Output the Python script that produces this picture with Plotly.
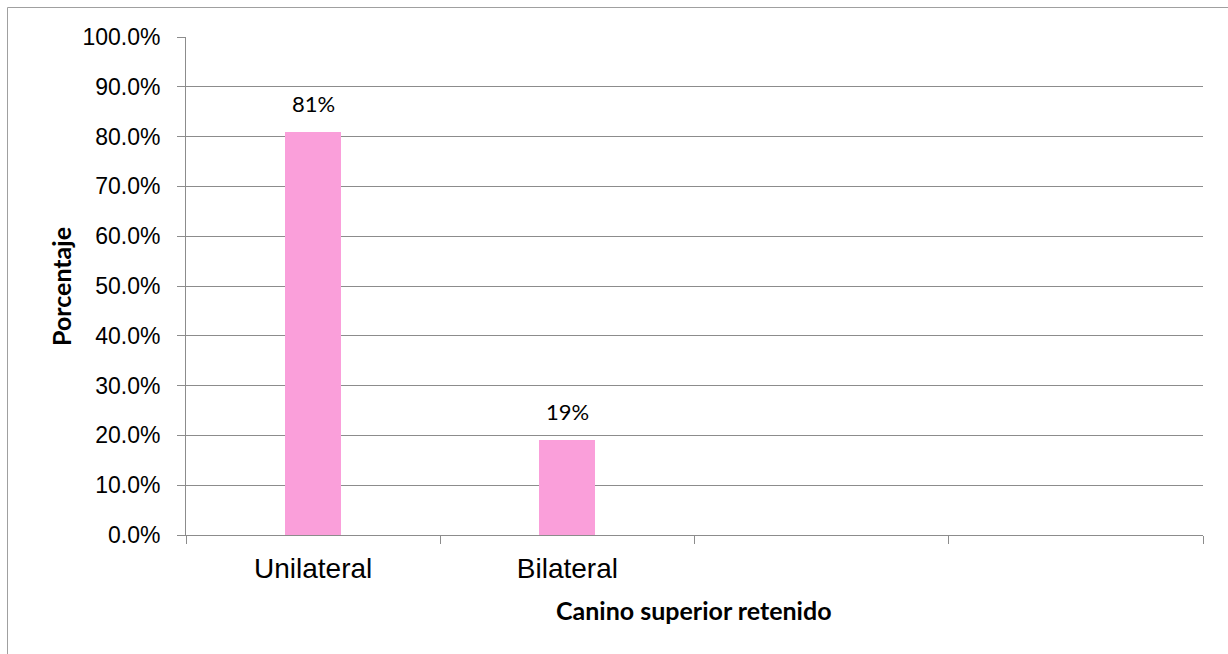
import plotly.graph_objects as go

categories = ["Unilateral", "Bilateral", " ", "  "]
values = [0.81, 0.19, None, None]
y_ticks = [0, 0.1, 0.2, 0.3, 0.4, 0.5, 0.6, 0.7, 0.8, 0.9, 1.0]
x_title = "Canino superior retenido"
y_title = "Porcentaje"

W, H = 1228, 654
L, R, T, B = 186, 25, 37, 119
pw, ph = W - L - R, H - T - B

def px2x(px):
    return (px - L) / pw

def py2y(py):
    return (H - B - py) / ph

fig = go.Figure()
fig.add_trace(go.Bar(
    x=categories, y=values, width=0.22,
    marker=dict(color="#FA9FDA", line=dict(width=0)),
    hoverinfo="skip",
))

annotations = []
for c, v in zip(categories, values):
    if v is None:
        continue
    annotations.append(dict(
        x=c, y=v, xref="x", yref="y", text=f"{v:.0%}", showarrow=False,
        yanchor="bottom", yshift=13,
        font=dict(family="Lato", size=22, color="#000"),
    ))
annotations.append(dict(
    x=px2x(694), y=py2y(610), xref="paper", yref="paper",
    text=f"<b>{x_title}</b>", showarrow=False, xanchor="center", yanchor="middle",
    font=dict(family="Lato", size=25, color="#000"),
))
annotations.append(dict(
    x=px2x(61), y=py2y(287), xref="paper", yref="paper",
    text=f"<b>{y_title}</b>", showarrow=False, xanchor="center", yanchor="middle",
    textangle=-90, font=dict(family="Lato", size=25, color="#000"),
))

fig.update_layout(
    width=W, height=H,
    margin=dict(l=L, r=R, t=T, b=B),
    paper_bgcolor="white", plot_bgcolor="white",
    showlegend=False,
    bargap=0,
    xaxis=dict(
        type="category", tickson="boundaries", ticks="outside", ticklen=8,
        tickcolor="#8c8c8c", showline=True, linecolor="#8c8c8c", linewidth=1,
        showgrid=False, zeroline=False, ticklabelstandoff=8,
        tickfont=dict(family="Liberation Sans", size=28, color="#000"),
    ),
    yaxis=dict(
        range=[0, 1.0], tickvals=y_ticks, tickformat=".1%",
        ticks="outside", ticklen=8, tickcolor="#8c8c8c",
        showline=True, linecolor="#8c8c8c", linewidth=1,
        showgrid=True, gridcolor="#8c8c8c", gridwidth=1, zeroline=False,
        ticklabelstandoff=12,
        tickfont=dict(family="Liberation Sans", size=23, color="#000"),
    ),
    annotations=annotations,
    shapes=[dict(type="rect", xref="paper", yref="paper",
                 x0=px2x(7.5), x1=px2x(1240), y0=py2y(7.5), y1=py2y(670),
                 line=dict(color="#a0a0a0", width=1), fillcolor="rgba(0,0,0,0)",
                 layer="below")],
)

fig.write_html("out.html")
